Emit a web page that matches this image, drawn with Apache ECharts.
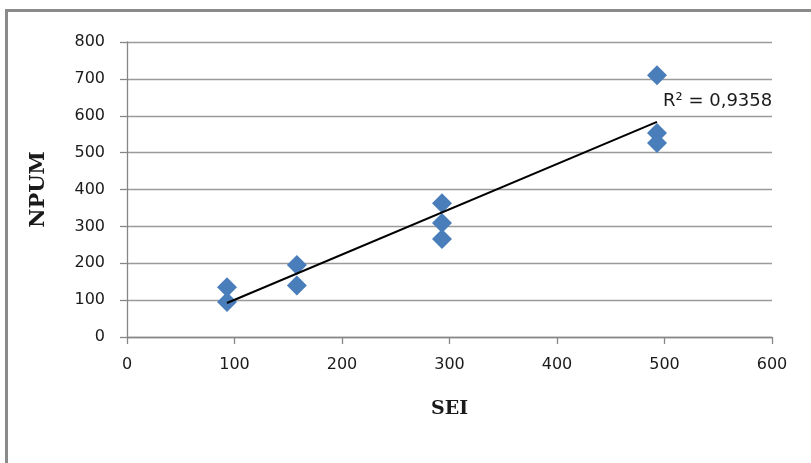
<!DOCTYPE html>
<html>
<head>
<meta charset="utf-8">
<script src="https://cdn.jsdelivr.net/npm/echarts@6/dist/echarts.min.js"></script>
<style>html,body{margin:0;padding:0;background:#fff}#c{width:811px;height:463px}</style>
</head>
<body>
<div id="c"></div>
<script>
// Data
const seiValues  = [93, 93, 158, 158, 293, 293, 293, 493, 493, 493];
const npumValues = [135, 95, 195, 140, 363, 309, 266, 710, 553, 526];
const xTicks = [0, 100, 200, 300, 400, 500, 600];
const yTicks = [0, 100, 200, 300, 400, 500, 600, 700, 800];
const r2Label = 'R² = 0,9358';

// Linear least-squares trendline computed from the data
const n = seiValues.length;
const mx = seiValues.reduce((a, b) => a + b, 0) / n;
const my = npumValues.reduce((a, b) => a + b, 0) / n;
let sxy = 0, sxx = 0;
for (let i = 0; i < n; i++) { sxy += (seiValues[i] - mx) * (npumValues[i] - my); sxx += (seiValues[i] - mx) ** 2; }
const slope = sxy / sxx, intercept = my - slope * mx;
const xMin = Math.min(...seiValues), xMax = Math.max(...seiValues);
const trend = [[xMin, intercept + slope * xMin], [xMax, intercept + slope * xMax]];

const chart = echarts.init(document.getElementById('c'), null, {renderer: 'canvas'});
const tickFont = {fontFamily: 'DejaVu Sans', fontSize: 16, color: '#1a1a1a'};
chart.setOption({
  animation: false,
  backgroundColor: '#fff',
  graphic: [{
    type: 'rect', shape: {x: 6.5, y: 10.5, width: 900, height: 600},
    style: {fill: null, stroke: '#8a8a8a', lineWidth: 3}, silent: true
  }],
  grid: {left: 127, right: 39, top: 42, bottom: 126},
  xAxis: {
    type: 'value', min: xTicks[0], max: xTicks[xTicks.length - 1], interval: 100,
    name: 'SEI', nameLocation: 'middle', nameGap: 63,
    nameTextStyle: {fontFamily: 'DejaVu Serif', fontWeight: 'bold', fontSize: 19, color: '#1a1a1a'},
    axisLine: {show: true, onZero: false, lineStyle: {color: '#868686', width: 1.3}},
    axisTick: {show: true, length: 7, lineStyle: {color: '#868686', width: 1.3}},
    axisLabel: Object.assign({margin: 20}, tickFont),
    splitLine: {show: false}
  },
  yAxis: {
    type: 'value', min: yTicks[0], max: yTicks[yTicks.length - 1], interval: 100,
    name: 'NPUM', nameLocation: 'middle', nameGap: 78, nameRotate: 90,
    nameTextStyle: {fontFamily: 'DejaVu Serif', fontWeight: 'bold', fontSize: 21, color: '#1a1a1a'},
    axisLine: {show: true, onZero: false, lineStyle: {color: '#868686', width: 1.3}},
    axisTick: {show: true, length: 7, lineStyle: {color: '#868686', width: 1.3}},
    axisLabel: Object.assign({margin: 22}, tickFont),
    splitLine: {show: true, lineStyle: {color: '#9a9a9a', width: 1.3}}
  },
  series: [{
    type: 'scatter',
    data: seiValues.map((x, i) => [x, npumValues[i]]),
    symbol: 'diamond', symbolSize: 20,
    itemStyle: {color: '#4a7ebb', opacity: 1}
  }, {
    type: 'line',
    data: trend,
    symbol: 'none', showSymbol: false,
    lineStyle: {color: '#000', width: 2},
    endLabel: {show: true, formatter: r2Label, distance: 0, offset: [6, -21],
      fontFamily: 'DejaVu Sans', fontSize: 18, color: '#1a1a1a'},
    z: 3
  }]
});
</script>
</body>
</html>
